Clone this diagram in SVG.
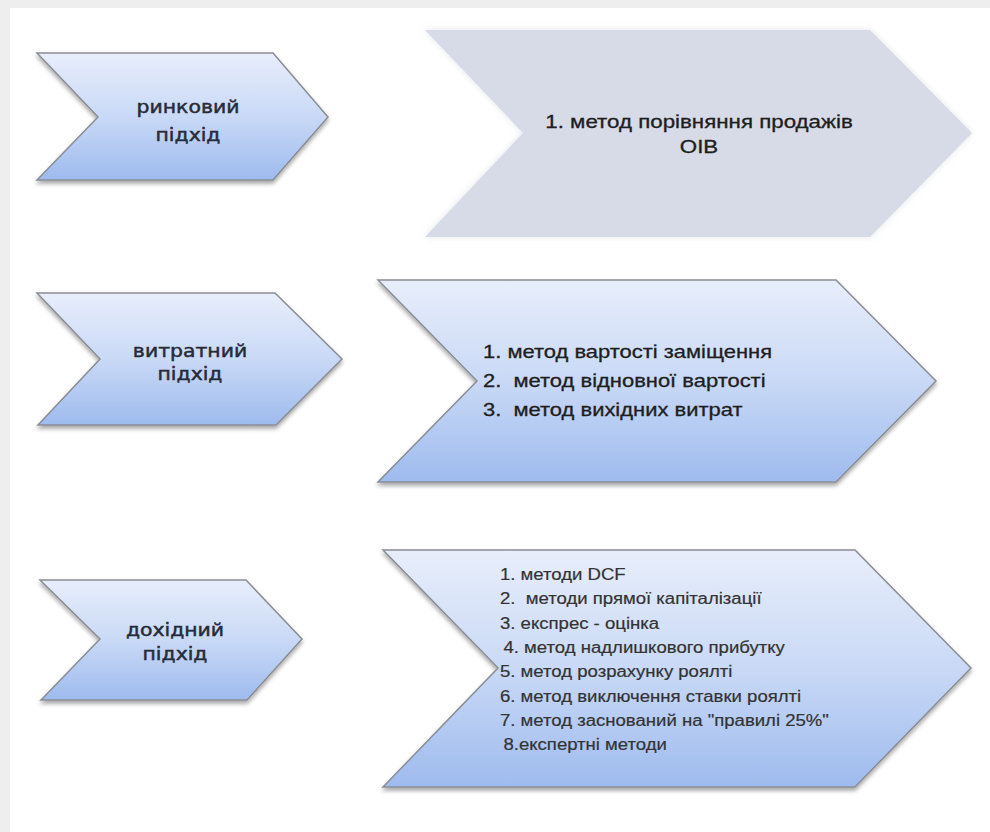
<svg xmlns="http://www.w3.org/2000/svg" width="990" height="832" viewBox="0 0 990 832">
<defs>
<linearGradient id="blue" x1="0" y1="0" x2="0" y2="1">
<stop offset="0" stop-color="#e8eefb"/>
<stop offset="0.5" stop-color="#c9d9f6"/>
<stop offset="1" stop-color="#9ebbee"/>
</linearGradient>
<filter id="shadow" x="-10%" y="-10%" width="120%" height="130%">
<feDropShadow dx="0" dy="3" stdDeviation="2" flood-color="#000" flood-opacity="0.35"/>
</filter>
<filter id="glow" x="-10%" y="-10%" width="120%" height="120%">
<feDropShadow dx="0" dy="0" stdDeviation="3" flood-color="#c8ccd6" flood-opacity="0.5"/>
</filter>
</defs>
<style>
.chev{fill:url(#blue);stroke:#8a8d94;stroke-width:1.5;filter:url(#shadow);stroke-linejoin:miter}
.gray{fill:#d6dbe7;filter:url(#glow)}
.lbl{font-family:"DejaVu Sans",Verdana,sans-serif;font-size:17px;fill:#262b38;stroke:#262b38;stroke-width:0.45;text-anchor:middle}
.m{font-family:"Liberation Sans",Arial,sans-serif;font-size:18px;fill:#1e1e1e;stroke:#1e1e1e;stroke-width:0.3}
.s{font-family:"Liberation Sans",Arial,sans-serif;font-size:16px;fill:#333;stroke:#333;stroke-width:0.2}
</style>
<rect x="0" y="0" width="990" height="832" fill="#ffffff"/>
<rect x="0" y="0" width="990" height="8" fill="#eeeeee"/>
<rect x="0" y="0" width="10" height="832" fill="#eeeeee"/>

<g id="n1">
<path class="chev" d="M37,53 L273,53 L328,117 L273,180 L37,180 L98,117 Z"/>
<g transform="translate(188,0) scale(1.2,1)">
<text class="lbl" x="0" y="113">ринковий</text>
<text class="lbl" x="0" y="141">підхід</text>
</g>
</g>

<g id="n2">
<path class="gray" d="M425,30 L870,30 L972,133 L870,237 L425,237 L523,133 Z"/>
<g transform="translate(699,0) scale(1.24,1)">
<text class="m" x="0" y="128" text-anchor="middle">1. метод порівняння продажів</text>
<text class="m" x="0" y="153" text-anchor="middle">OIB</text>
</g>
</g>

<g id="n3">
<path class="chev" d="M37,293 L275,293 L342,359 L276,425 L38,425 L100,359 Z"/>
<g transform="translate(190,0) scale(1.2,1)">
<text class="lbl" x="0" y="357">витратний</text>
<text class="lbl" x="0" y="380">підхід</text>
</g>
</g>

<g id="n4">
<path class="chev" d="M378,280 L836,280 L936,381 L836,482 L378,482 L477,381 Z"/>
<g transform="translate(483,0) scale(1.22,1)">
<text class="m" x="0" y="358" xml:space="preserve">1. метод вартості заміщення</text>
<text class="m" x="0" y="387" xml:space="preserve">2.  метод відновної вартості</text>
<text class="m" x="0" y="416" xml:space="preserve">3.  метод вихідних витрат</text>
</g>
</g>

<g id="n5">
<path class="chev" d="M40,580 L246,580 L302,639 L247,700 L41,700 L100,639 Z"/>
<g transform="translate(175,0) scale(1.2,1)">
<text class="lbl" x="0" y="636">дохідний</text>
<text class="lbl" x="0" y="660">підхід</text>
</g>
</g>

<g id="n6">
<path class="chev" d="M383,550 L855,550 L971,668 L855,787 L383,787 L498,668 Z"/>
<g transform="translate(500,0) scale(1.16,1)">
<text class="s" x="0" y="580">1. методи DCF</text>
<text class="s" x="0" y="604" xml:space="preserve">2.  методи прямої капіталізації</text>
<text class="s" x="0" y="629">3. експрес - оцінка</text>
<text class="s" x="3" y="653">4. метод надлишкового прибутку</text>
<text class="s" x="0" y="677">5. метод розрахунку роялті</text>
<text class="s" x="0" y="702">6. метод виключення ставки роялті</text>
<text class="s" x="0" y="726">7. метод заснований на "правилі 25%"</text>
<text class="s" x="3" y="750">8.експертні методи</text>
</g>
</g>

<g id="connectors"></g>
</svg>
